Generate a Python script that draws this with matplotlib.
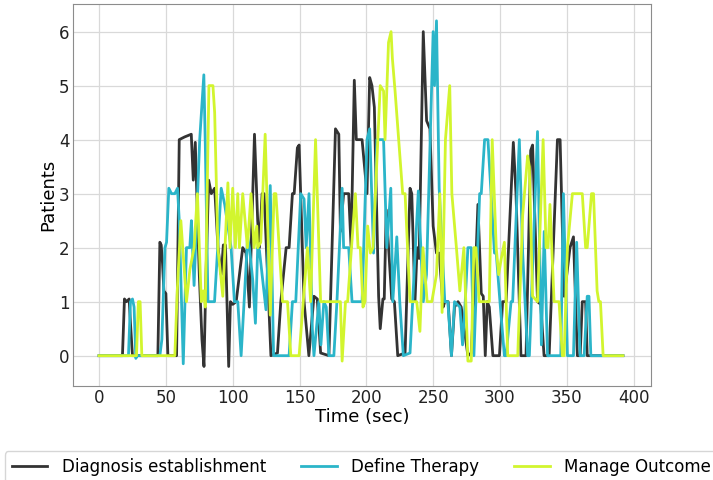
import matplotlib
matplotlib.use("Agg")
import matplotlib.pyplot as plt

# Patients in each stage over time (time in seconds, count of patients)
diag_t = [0, 17.5, 19, 20.5, 22.5, 23.5, 25, 44, 45.5, 46.5, 47.5, 48.5, 50, 51.5, 58, 60, 64, 69, 70.5, 72, 73,
          75, 77, 78.5, 80, 82, 84, 86.5, 89, 91.4, 93, 94.6, 97, 98.3, 100, 102.6, 107.5, 110, 112.5, 116.3,
          118.7, 120, 122, 123.5, 128.6, 133.5, 136, 140, 142.2, 144.7, 146, 148.4, 149.7, 153.4, 157, 160.8,
          163.3, 165.8, 172, 176.9, 179.4, 180.6, 183, 186.8, 188.6, 191, 192.5, 196.8, 200.5, 202.5, 204.2,
          206, 209.2, 210.4, 212.4, 213.4, 214.9, 219, 221, 223.5, 229, 232.7, 234, 236.4, 238, 239.5, 242.6,
          245.1, 247.6, 250, 252.5, 254.5, 257.5, 258.7, 261.2, 263.7, 266, 268.6, 271, 276, 278.5, 282.3,
          283.5, 286, 287.5, 289, 290.5, 292, 294.7, 299.6, 302, 304.6, 310, 312, 315.7, 319.5, 323, 324.4,
          328.1, 330.5, 333, 336.8, 343, 345, 348, 350, 352.4, 355, 357.9, 360, 361.6, 364.1, 365.3, 392]
diag_v = [0, 0, 1.05, 1.0, 1.05, 0.6, 0, 0, 2.1, 2.05, 1.7, 1.2, 1.15, 0, 0, 4.0, 4.05, 4.1, 3.25, 3.95, 3.1,
          1.5, 0.3, -0.2, 1.5, 3.25, 3.0, 3.1, 2.0, 1.5, 2.05, 2.05, -0.2, 1.0, 0.95, 1.0, 2.0, 1.9, 0.9, 4.1,
          2.5, 2.0, 3.0, 3.0, 0, 0.05, 1.0, 2.0, 2.0, 3.0, 3.0, 3.85, 3.9, 1.0, 0, 1.1,
          1.05, 0.05, 0, 4.2, 4.1, 2.3, 3.0, 3.0, 2.0, 5.1, 4.0, 4.0, 3.0, 5.15, 5.0,
          4.6, 1.1, 0.5, 1.05, 1.05, 2.7, 1.05, 1.0, 0, 0.05, 3.1, 3.0, 1.0, 2.0, 1.8, 6.0,
          4.35, 4.2, 2.4, 1.9, 1.9, 0.9, 1.0, 1.0, 0, 0.9, 1.0, 0.9, 0, 0.05, 2.0,
          2.8, 1.15, 1.1, 0, 1.0, 0.9, 0, 0, 1.0, 1.0, 3.95, 3.0, 0, 0, 3.8, 3.9,
          1.0, 0.95, 0, 0, 4.0, 4.0, 1.1, 1.5, 2.0, 2.2, 0, 0, 1.0, 1.0, 0, 0]

therapy_t = [0, 22, 23.5, 25, 26.2, 27.5, 28.5, 45.5, 47, 49.3, 50.5, 52.2, 54.2, 56.7, 58.7, 60, 63, 65.4,
             67.9, 69.1, 71.1, 75.3, 78.4, 79.5, 81.5, 84, 86.4, 91.4, 94, 98.8, 101.3, 103.8, 106.3, 111.2,
             112.5, 115, 117, 118.7, 120, 124.9, 128.1, 130.6, 142.2, 144.7, 147.2, 150.9, 153.4, 155, 157.1,
             159.6, 160.8, 164.5, 166, 168.2, 170, 172, 175.7, 178, 181.9, 183, 186.8, 189.3, 196.8, 200.5,
             202.5, 205.4, 207.9, 212.9, 215.3, 218.3, 219.8, 222.8, 225, 227.7, 232.7, 238.9, 242.6, 245,
             250, 251, 252.5, 254.5, 258.7, 261, 263.7, 266, 270, 272, 274, 276, 278.5, 280.5, 284.8, 286,
             288.5, 291, 295.9, 297.2, 300, 303.3, 304.6, 308.3, 309.5, 314.5, 317, 320.7, 322, 328.1, 331,
             333.1, 335.6, 345.5, 347.5, 350.5, 355, 357.4, 359.9, 363, 365.3, 366.6, 368, 392]
therapy_v = [0, 0, 1.0, 1.05, 0.9, -0.05, 0, 0, 0.3, 2.0, 2.1, 3.1, 3.0, 3.0, 3.1, 2.5, -0.15, 2.0,
             2.0, 2.5, 1.3, 4.0, 5.2, 3.9, 1.0, 1.0, 1.0, 3.1, 2.8, 2.0, 1.0, 1.0, 0, 2.2,
             2.0, 1.4, 0.6, 2.0, 1.95, 0.85, 3.15, 0, 0, 1.0, 1.0, 3.0, 2.9, 2.0, 3.0,
             0.5, 0, 1.0, 0.2, 1.0, 0.9, 0, 0, 1.0, 3.1, 2.0, 2.0, 1.0, 1.0, 4.0,
             4.2, 1.9, 4.0, 4.0, 2.0, 3.1, 1.0, 2.2, 1.0, 0, 0.05, 3.05, 1.0, 1.5,
             6.0, 5.0, 6.2, 3.1, 1.0, 1.0, 0, 1.0, 0.9, 0.2, 1.0, 2.0, 2.0, 0, 3.0, 3.0,
             4.0, 4.0, 1.9, 1.9, 1.0, 0, 0, 1.0, 1.0, 4.0, 1.9, 0, 0, 4.15, 0.2,
             2.3, 0, 0, 3.0, 0, 0, 2.1, 0, 0, 1.1, 1.1, 0, 0]

outcome_t = [0, 28, 29.4, 30.7, 32, 56.7, 58.5, 61.2, 65.4, 68, 71.1, 73.6, 76.5, 78, 79.5, 82.2, 85.2, 86.5,
             88.9, 92.6, 96.4, 98, 100, 102, 103.8, 105, 107.5, 111, 113.7, 116, 118, 118.7, 121, 124.3, 128.1,
             131, 132.3, 137.3, 141, 143.5, 149.7, 155.9, 158.3, 162, 165.8, 180.6, 181.9, 184.4, 186, 191.8,
             193.8, 195.5, 197.5, 199, 201, 203, 205, 210.4, 212.9, 214, 216.6, 218.5, 219.5, 221.5, 227.2,
             229, 232.7, 237.7, 240.1, 242.4, 245.5, 249, 252.5, 255, 256.7, 259.2, 262.4, 264, 267.4, 270,
             273, 276, 278.5, 280.5, 282, 284.5, 292, 294.2, 297.2, 299, 301, 303.3, 305.8, 313.3, 317,
             320.7, 322, 324.4, 328.1, 332.3, 334.5, 336, 337.4, 340.5, 344.2, 346.7, 348, 350.5, 354.2,
             357.9, 361.6, 364.1, 365.3, 368.5, 370, 372.7, 374, 375.2, 377.2, 392]
outcome_v = [0, 0, 1.0, 1.0, 0, 0, 1.2, 2.5, 1.0, 1.6, 2.0, 3.0, 1.0, 1.2, 0.9, 5.0, 5.0, 4.5,
             2.0, 1.1, 3.2, 2.0, 3.1, 2.0, 3.0, 2.0, 3.0, 2.0, 3.0, 2.0, 2.4, 2.0, 2.1, 4.1, 0.75,
             3.0, 3.0, 1.0, 1.0, 0, 0, 2.0, 1.0, 4.0, 1.0, 1.0, -0.1, 1.0, 1.0, 3.0,
             2.0, 2.0, 0.9, 1.0, 2.4, 1.9, 2.0, 5.0, 4.9, 4.0, 5.8, 6.0, 5.5, 4.9, 3.0,
             3.0, 1.0, 1.0, 0.45, 2.0, 1.0, 1.0, 1.5, 3.0, 0.8, 4.0, 5.0, 3.0, 2.0, 1.2,
             2.0, -0.1, -0.1, 2.0, 2.0, 1.0, 1.0, 4.0, 2.0, 1.5, 1.8, 2.1, 0, 0, 2.6,
             3.7, 3.5, 1.1, 1.0, 4.0, 2.0, 2.0, 2.8, 1.0, 1.0, 0, 0, 2.0, 3.0,
             3.0, 3.0, 2.0, 2.0, 3.0, 3.0, 1.2, 1.0, 1.0, 0, 0]

series = [
    ("Diagnosis establishment", diag_t, diag_v, "#333333"),
    ("Define Therapy", therapy_t, therapy_v, "#2bb5c9"),
    ("Manage Outcome", outcome_t, outcome_v, "#d2f52e"),
]

plt.rcParams["font.family"] = "DejaVu Sans"
fig = plt.figure(figsize=(7.13, 4.8), dpi=100)
ax = fig.add_axes([0.1024, 0.196, 0.8106, 0.7955])

for label, t, v, color in series:
    ax.plot(t, v, color=color, lw=2, label=label)

ax.set_xlim(-19.5, 413)
ax.set_ylim(-0.56, 6.51)
ax.set_xticks([0, 50, 100, 150, 200, 250, 300, 350, 400])
ax.set_yticks([0, 1, 2, 3, 4, 5, 6])
ax.grid(True, color="#d9d9d9", lw=0.9)
ax.set_axisbelow(True)
for sp in ax.spines.values():
    sp.set_color("#8c8c8c")
ax.tick_params(labelsize=12, colors="#8c8c8c", labelcolor="#222222", length=0, pad=2.5)
ax.set_xlabel("Time (sec)", fontsize=13, labelpad=0.5)
ax.set_ylabel("Patients", fontsize=13, labelpad=1)

fig.legend(loc="upper left", bbox_to_anchor=(0.007, 0.06), ncol=3, fontsize=12,
           frameon=True, edgecolor="#cccccc", columnspacing=2.1, handlelength=2.15,
           handletextpad=0.85, borderaxespad=0)

fig.savefig("out.png", dpi=100)
